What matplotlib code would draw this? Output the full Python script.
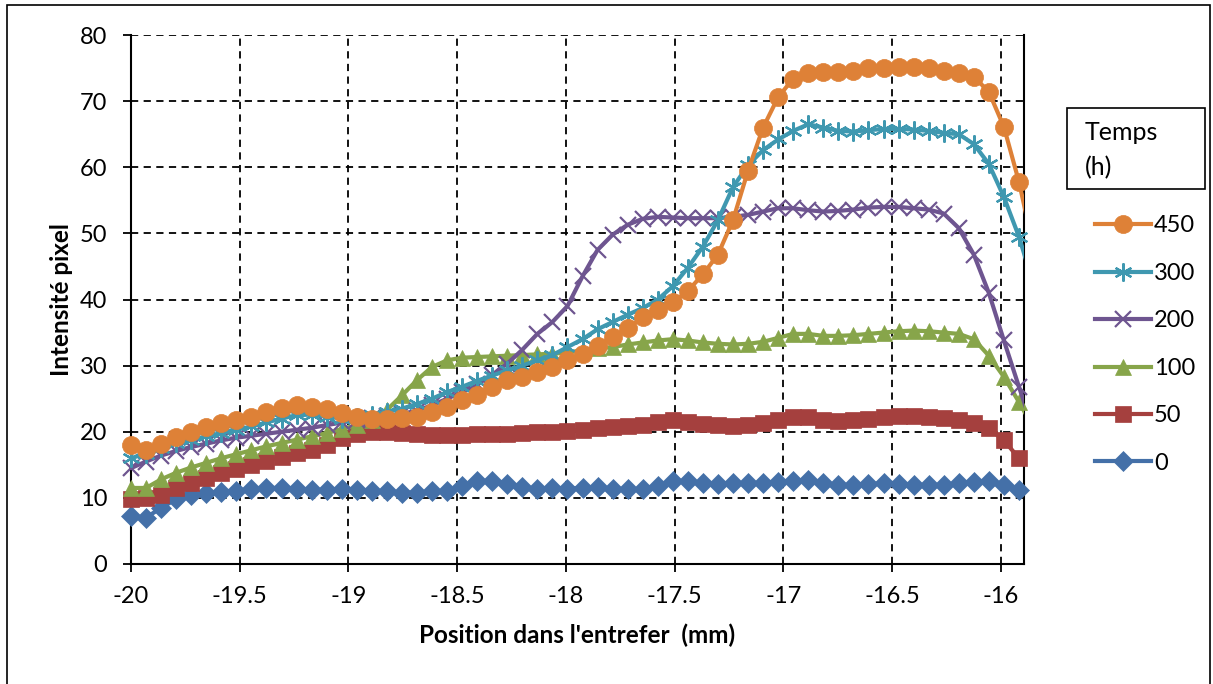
import numpy as np
import matplotlib
matplotlib.use("Agg")
import matplotlib.pyplot as plt
from matplotlib.lines import Line2D
from matplotlib.patches import Rectangle

plt.rcParams['font.family'] = ['Lato', 'DejaVu Sans']

# sampling step along the gap (mm); last point sits just past the axis edge
step = 0.0692
x = -20 + step * np.arange(61)

t0 = [7.2, 7.0, 8.5, 9.8, 10.4, 10.7, 10.9, 11.1, 11.3, 11.5,
      11.5, 11.3, 11.2, 11.2, 11.3, 11.2, 11.0, 11.0, 10.8, 10.8,
      11.0, 11.0, 11.8, 12.5, 12.6, 12.1, 11.7, 11.3, 11.5, 11.4,
      11.5, 11.6, 11.4, 11.3, 11.3, 11.8, 12.6, 12.5, 12.2, 12.1,
      12.2, 12.2, 12.3, 12.4, 12.5, 12.7, 12.2, 11.9, 12.0, 12.1,
      12.2, 12.1, 12.0, 11.9, 12.0, 12.2, 12.4, 12.5, 12.0, 11.2, 10.8]
t50 = [9.8, 10.0, 10.5, 11.5, 12.3, 13.0, 13.7, 14.3, 15.0, 15.6,
       16.2, 16.8, 17.3, 18.0, 19.0, 19.7, 19.9, 19.9, 19.8, 19.6,
       19.5, 19.5, 19.5, 19.6, 19.6, 19.7, 19.8, 19.9, 20.0, 20.1,
       20.3, 20.5, 20.7, 20.8, 21.0, 21.4, 21.8, 21.5, 21.2, 21.0,
       20.9, 21.0, 21.3, 21.8, 22.2, 22.2, 21.8, 21.7, 21.8, 22.0,
       22.2, 22.4, 22.4, 22.3, 22.1, 21.8, 21.3, 20.5, 18.7, 16.0, 14.0]
t100 = [11.5, 11.5, 12.8, 13.8, 14.6, 15.3, 16.0, 16.6, 17.2, 17.8,
        18.3, 18.8, 19.3, 19.8, 20.4, 21.0, 21.8, 23.3, 25.5, 27.8,
        29.8, 30.8, 31.2, 31.3, 31.4, 31.5, 31.6, 31.7, 31.8, 32.0,
        32.3, 32.6, 32.8, 33.2, 33.5, 33.8, 34.0, 33.8, 33.5, 33.3,
        33.2, 33.3, 33.6, 34.2, 34.8, 34.8, 34.5, 34.5, 34.6, 34.8,
        35.0, 35.2, 35.3, 35.2, 35.0, 34.8, 34.0, 31.5, 28.3, 24.5, 20.5]
t200 = [14.5, 15.5, 16.4, 17.1, 17.7, 18.2, 18.7, 19.1, 19.4, 19.7,
        20.0, 20.3, 20.6, 21.0, 21.4, 21.8, 22.1, 22.4, 22.7, 23.2,
        24.0, 25.0, 26.0, 27.2, 28.6, 30.3, 32.4, 34.8, 36.6, 39.0,
        43.5, 47.5, 49.8, 51.3, 52.2, 52.5, 52.4, 52.3, 52.3, 52.3,
        52.5, 52.8, 53.3, 53.8, 53.8, 53.5, 53.3, 53.4, 53.6, 53.9,
        54.0, 54.0, 53.8, 53.6, 53.0, 50.8, 46.8, 41.0, 33.8, 26.8, 20.0]
t300 = [16.0, 16.7, 17.5, 18.3, 18.8, 19.3, 19.8, 20.3, 20.8, 21.4,
        22.0, 22.5, 22.6, 22.3, 22.0, 22.2, 22.6, 23.0, 23.5, 24.2,
        25.0, 26.0, 26.8, 27.7, 28.5, 29.3, 30.0, 30.8, 31.6, 32.8,
        34.0, 35.5, 36.6, 37.7, 38.7, 40.0, 42.0, 44.8, 48.0, 52.0,
        57.0, 60.3, 62.6, 64.2, 65.5, 66.5, 66.0, 65.5, 65.4, 65.6,
        65.8, 65.8, 65.7, 65.5, 65.2, 65.0, 63.5, 60.5, 55.5, 49.5, 42.0]
t450 = [18.0, 17.2, 18.2, 19.2, 20.0, 20.7, 21.3, 21.8, 22.3, 23.0,
        23.6, 24.0, 23.8, 23.4, 22.8, 22.3, 22.0, 22.0, 22.1, 22.3,
        23.0, 23.7, 24.8, 25.6, 26.8, 27.8, 28.3, 29.0, 29.8, 30.8,
        31.8, 33.0, 34.3, 35.7, 37.3, 38.4, 39.6, 41.3, 43.8, 46.8,
        52.0, 59.5, 66.0, 70.6, 73.4, 74.2, 74.4, 74.4, 74.6, 75.0,
        75.0, 75.2, 75.2, 75.0, 74.6, 74.2, 73.7, 71.4, 66.1, 57.8, 47.5]

labels = ['0', '50', '100', '200', '300', '450']
series = [t0, t50, t100, t200, t300, t450]
colors = ['#4470A8', '#A5403E', '#87A54A', '#6E5590', '#3F98B0', '#DE8137']
markers = ['D', 's', '^', 'x', (6, 2, 0), 'o']
msizes = [10, 11, 11, 12, 13, 13]

xticks = [-20, -19.5, -19, -18.5, -18, -17.5, -17, -16.5, -16]
xticklabels = ['-20', '-19.5', '-19', '-18.5', '-18', '-17.5', '-17', '-16.5', '-16']
yticks = np.arange(0, 90, 10)

fig = plt.figure(figsize=(12.13, 6.84), dpi=100)
ax = fig.add_axes([131 / 1213, 120 / 684, 893 / 1213, 529 / 684])

handles = []
for k, (vals, lab, col, mk, ms) in enumerate(zip(series, labels, colors, markers, msizes)):
    vals = np.array(vals)
    ax.plot(x, vals, color=col, lw=3, zorder=3 + k, solid_capstyle='round')
    hollow = mk in ('x',) or isinstance(mk, tuple)
    ax.plot(x[:60], vals[:60], ls='none', marker=mk, ms=ms,
            color=col, mec=col, mew=1.6 if hollow else 0.5,
            mfc='none' if hollow else col, clip_on=False, zorder=3 + k)
    handles.append(Line2D([], [], color=col, lw=3, marker=mk, ms=ms, mec=col,
                          mew=1.6 if hollow else 0.5,
                          mfc='none' if hollow else col))

ax.set_xlim(-20, -15.894)
ax.set_ylim(0, 80)
ax.set_xticks(xticks)
ax.set_xticklabels(xticklabels)
ax.set_yticks(yticks)
ax.grid(True, color='black', ls=(0, (4, 3)), lw=1.3)
ax.set_axisbelow(True)
for s in ['left', 'bottom', 'right']:
    ax.spines[s].set_linewidth(1.5)
ax.spines['top'].set_visible(False)
ax.tick_params(axis='both', direction='out', length=6, width=1.3, labelsize=17)
ax.tick_params(axis='x', pad=10)
ax.tick_params(axis='y', pad=11, right=False)

ax.set_xlabel("Position dans l'entrefer  (mm)", fontsize=17.5, fontweight='bold', labelpad=12)
ax.set_ylabel('Intensité pixel', fontsize=17.5, fontweight='bold', labelpad=5)

leg = fig.legend(handles[::-1], labels[::-1], loc='upper left',
                 bbox_to_anchor=(1086 / 1213, 1 - 206 / 684), frameon=False,
                 fontsize=17, handlelength=2.35, labelspacing=1.12,
                 handletextpad=0.12, borderaxespad=0)

fig.patches.append(Rectangle((1067 / 1213, 1 - 189 / 684), 138 / 1213, 81 / 684,
                             transform=fig.transFigure, fill=False, ec='black', lw=1.2))
fig.text(1085 / 1213, 1 - 133 / 684, 'Temps', fontsize=18, va='center', ha='left')
fig.text(1085 / 1213, 1 - 168 / 684, '(h)', fontsize=18, va='center', ha='left')

# chart area border
fig.patches.append(Rectangle((7 / 1213, -0.01), 1203 / 1213, 1 - 5 / 684 + 0.01,
                             transform=fig.transFigure, fill=False, ec='black', lw=1.2))

fig.savefig('out.png', dpi=100)
